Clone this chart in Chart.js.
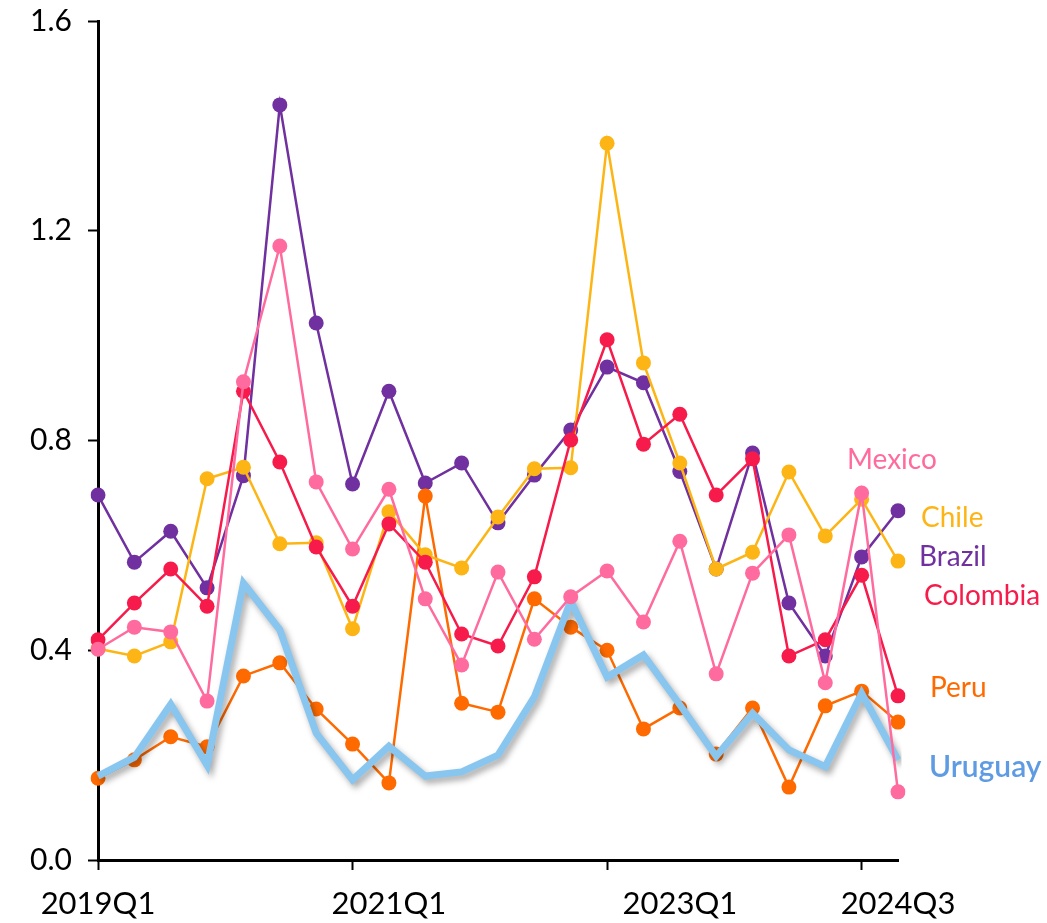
<!DOCTYPE html>
<html>
<head>
<meta charset="utf-8">
<script src="https://cdn.jsdelivr.net/npm/chart.js@4/dist/chart.umd.min.js"></script>
<style>
html,body{margin:0;padding:0;background:#fff;}
#wrap{width:1047px;height:923px;position:relative;}
</style>
</head>
<body>
<div id="wrap"><canvas id="c" width="1047" height="923"></canvas></div>
<script>
// Categories: quarters 2019Q1 .. 2024Q3
const categories = ['2019Q1','2019Q2','2019Q3','2019Q4','2020Q1','2020Q2','2020Q3','2020Q4',
  '2021Q1','2021Q2','2021Q3','2021Q4','2022Q1','2022Q2','2022Q3','2022Q4',
  '2023Q1','2023Q2','2023Q3','2023Q4','2024Q1','2024Q2','2024Q3'];

const brazil   = [0.696,0.568,0.627,0.519,0.733,1.440,1.024,0.717,0.894,0.719,0.757,0.643,0.734,0.820,0.940,0.910,0.741,0.555,0.776,0.490,0.389,0.578,0.666];
const colombia = [0.420,0.490,0.555,0.484,0.894,0.759,0.597,0.484,0.641,0.568,0.431,0.408,0.540,0.801,0.992,0.793,0.850,0.696,0.765,0.389,0.420,0.543,0.313];
const chile    = [0.403,0.389,0.416,0.727,0.749,0.603,0.605,0.441,0.664,0.582,0.557,0.654,0.746,0.748,1.367,0.948,0.757,0.555,0.587,0.740,0.618,0.688,0.570];
const mexico   = [0.402,0.444,0.435,0.303,0.912,1.171,0.721,0.593,0.707,0.498,0.372,0.549,0.421,0.502,0.551,0.454,0.608,0.355,0.547,0.620,0.338,0.700,0.130];
const peru     = [0.156,0.191,0.235,0.216,0.351,0.376,0.288,0.221,0.147,0.694,0.299,0.282,0.498,0.444,0.400,0.250,0.290,0.202,0.290,0.139,0.294,0.322,0.263];
const uruguay  = [0.160,0.196,0.297,0.181,0.528,0.439,0.242,0.153,0.217,0.160,0.168,0.200,0.311,0.494,0.349,0.391,0.296,0.198,0.280,0.210,0.178,0.318,0.191];

// Tick labels shown on the x axis (category index -> text) and tick mark positions
const xTickLabels = {0:'2019Q1', 8:'2021Q1', 16:'2023Q1', 22:'2024Q3'};
const xTickMarks = [0,7,14,21];
const yTicks = [0.0,0.4,0.8,1.2,1.6];

const FONT = 'Lato, "Open Sans", sans-serif';

const COLORS = {
  Brazil:'#7030A0', Colombia:'#F71B4B', Chile:'#FDB515', Mexico:'#FF6B9E', Peru:'#FF6A00', Uruguay:'#88C6F0'
};

function pointSeries(label, data, order){
  return {label, data, borderColor:COLORS[label], backgroundColor:COLORS[label],
    borderWidth:2.5, pointRadius:7.5, pointHoverRadius:7.5, pointBorderWidth:0,
    pointBackgroundColor:COLORS[label], tension:0, order};
}

const shadowPlugin = {
  id:'shadow',
  beforeDatasetDraw(chart, args){
    if (chart.data.datasets[args.index].label === 'Uruguay'){
      const ctx = chart.ctx; ctx.save();
      ctx.shadowColor = 'rgba(0,0,0,0.35)';
      ctx.shadowOffsetX = 3; ctx.shadowOffsetY = 4; ctx.shadowBlur = 6;
    }
  },
  afterDatasetDraw(chart, args){
    if (chart.data.datasets[args.index].label === 'Uruguay') chart.ctx.restore();
  }
};

// end labels (text, position, font)
const endLabels = [
  {t:'Mexico', x:847, y:460, f:'28px'},
  {t:'Chile', x:921, y:518, f:'28px'},
  {t:'Brazil', x:919, y:557, f:'28px'},
  {t:'Colombia', x:924, y:596, f:'28px'},
  {t:'Peru', x:930, y:688, f:'28px'},
  {t:'Uruguay', x:929, y:767, f:'600 30px', c:'#5E9BE3'}
];
const labelPlugin = {
  id:'endLabels',
  afterDraw(chart){
    const ctx = chart.ctx; ctx.save();
    ctx.textAlign='left'; ctx.textBaseline='middle';
    endLabels.forEach(l=>{
      ctx.font = l.f + ' ' + FONT;
      ctx.fillStyle = l.c || COLORS[l.t];
      ctx.fillText(l.t, l.x, l.y);
    });
    ctx.restore();
  }
};

new Chart(document.getElementById('c'), {
  type:'line',
  data:{
    labels:categories,
    datasets:[
      pointSeries('Mexico', mexico, 1),
      {label:'Uruguay', data:uruguay, borderColor:COLORS.Uruguay, borderWidth:7, pointRadius:0,
        pointHoverRadius:0, tension:0, fill:false, order:2, borderJoinStyle:'miter'},
      pointSeries('Colombia', colombia, 3),
      pointSeries('Chile', chile, 4),
      pointSeries('Peru', peru, 5),
      pointSeries('Brazil', brazil, 6)
    ]
  },
  options:{
    responsive:false, animation:false,
    layout:{padding:{left:0,right:149,top:21,bottom:0}},
    plugins:{legend:{display:false}, tooltip:{enabled:false}},
    scales:{
      x:{
        offset:false,
        grid:{drawOnChartArea:false, drawTicks:true, tickLength:10, tickWidth:2,
          tickColor:(ctx)=> xTickMarks.includes(ctx.index) ? '#000' : 'rgba(0,0,0,0)'},
        border:{color:'#000', width:3},
        ticks:{autoSkip:false, maxRotation:0, minRotation:0, padding:15, color:'#000',
          font:{family:FONT, size:31},
          callback:(v,i)=> (xTickLabels[i] !== undefined ? xTickLabels[i] : '')},
        afterFit(s){ s.height = 63; s.paddingLeft = 0; s.paddingRight = 0; }
      },
      y:{
        min:0, max:1.6,
        afterBuildTicks(s){ s.ticks = yTicks.map(v=>({value:v})); },
        grid:{drawOnChartArea:false, tickLength:10, tickWidth:2, tickColor:'#000'},
        border:{color:'#000', width:3},
        ticks:{padding:16, color:'#000', font:{family:FONT, size:30},
          callback:(v)=> Number(v).toFixed(1)},
        afterFit(s){ s.width = 98; s.paddingTop = 0; s.paddingBottom = 0; }
      }
    }
  },
  plugins:[shadowPlugin, labelPlugin]
});
</script>
</body>
</html>
